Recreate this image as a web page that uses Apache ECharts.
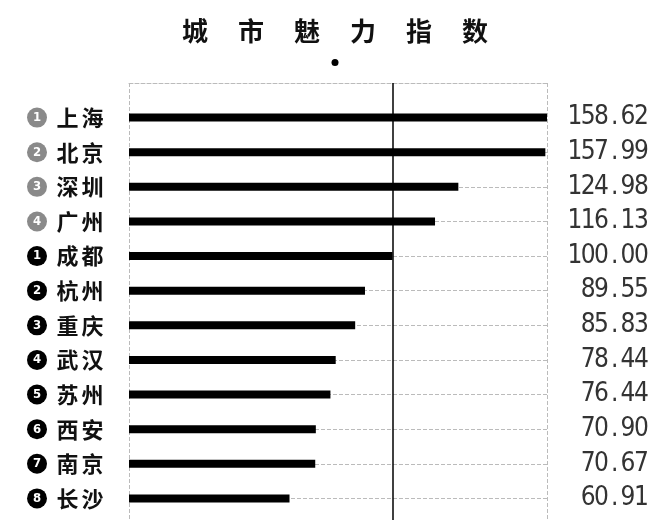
<!DOCTYPE html>
<html>
<head>
<meta charset="utf-8">
<script src="https://cdn.jsdelivr.net/npm/echarts@6/dist/echarts.min.js"></script>
<style>
  html, body { margin: 0; padding: 0; background: #fff; }
  #chart { width: 670px; height: 520px; }
</style>
</head>
<body>
<div id="chart"></div>
<script>
// 城市与指数
var cities = ['上海', '北京', '深圳', '广州', '成都', '杭州', '重庆', '武汉', '苏州', '西安', '南京', '长沙'];
var ranks = [1, 2, 3, 4, 1, 2, 3, 4, 5, 6, 7, 8];
var tiers = ['g', 'g', 'g', 'g', 'b', 'b', 'b', 'b', 'b', 'b', 'b', 'b']; // g = 一线, b = 新一线
var scores = [158.62, 157.99, 124.98, 116.13, 100.00, 89.55, 85.83, 78.44, 76.44, 70.90, 70.67, 60.91];
var baseline = 100;
var titleText = '城市魅力指数';

var axisMax = Math.max.apply(null, scores);
var numFont = "'Liberation Sans Narrow', 'DejaVu Sans Condensed', 'Roboto Condensed', 'Noto Sans', sans-serif";

// 上下各留一个空位
var leftCats = [''].concat(cities, ['']);
var rightCats = [''].concat(scores.map(function (v) { return v.toFixed(2); }), ['']);

var chart = echarts.init(document.getElementById('chart'));

var option = {
    backgroundColor: '#fff',
    animation: false,
    title: {
        text: titleText.split('').map(function (c) { return '{t|' + c + '}'; }).join(''),
        left: 'center',
        top: 8,
        textStyle: {
            rich: {
                t: {
                    width: 56,
                    align: 'center',
                    fontSize: 26,
                    fontWeight: 'bold',
                    color: '#111',
                    fontFamily: 'Noto Sans CJK SC',
                    lineHeight: 36
                }
            }
        }
    },
    graphic: [{
        type: 'circle',
        left: 'center',
        top: 59,
        shape: { r: 3.5 },
        style: { fill: '#000' }
    }],
    grid: {
        left: 129,
        right: 123,
        top: 83,
        bottom: -13,
        outerBoundsMode: 'none'
    },
    xAxis: {
        type: 'value',
        position: 'top',
        min: 0,
        max: axisMax,
        interval: axisMax,
        axisLine: { show: true, lineStyle: { color: '#bbb', type: 'dashed', width: 1 } },
        axisTick: { show: false },
        axisLabel: { show: false },
        splitLine: { show: true, lineStyle: { color: '#bbb', type: 'dashed', width: 1 } }
    },
    yAxis: [
        {
            type: 'category',
            inverse: true,
            boundaryGap: false,
            data: leftCats,
            axisLine: { show: false },
            axisTick: { show: false },
            axisLabel: {
                margin: 102,
                align: 'left',
                formatter: function (value, idx) {
                    if (!value) return '';
                    var i = idx - 1;
                    var s = '{' + tiers[i] + '|' + ranks[i] + '}{sp| }';
                    value.split('').forEach(function (c) { s += '{n|' + c + '}'; });
                    return s;
                },
                rich: {
                    g: {
                        backgroundColor: '#8a8a8a', borderRadius: 10, width: 20, height: 20,
                        align: 'center', color: '#fff', fontSize: 13, fontWeight: 'bold',
                        fontFamily: numFont
                    },
                    b: {
                        backgroundColor: '#000', borderRadius: 10, width: 20, height: 20,
                        align: 'center', color: '#fff', fontSize: 13, fontWeight: 'bold',
                        fontFamily: numFont
                    },
                    sp: { width: 8 },
                    n: {
                        width: 25, align: 'center', fontSize: 22, fontWeight: 'bold',
                        color: '#111', fontFamily: 'Noto Sans CJK SC'
                    }
                }
            }
        },
        {
            type: 'category',
            inverse: true,
            boundaryGap: false,
            position: 'right',
            data: rightCats,
            axisLine: { show: false },
            axisTick: { show: false },
            axisLabel: {
                margin: 101,
                align: 'right',
                formatter: function (value) {
                    if (!value) return '';
                    return value.split('').map(function (c) { return '{d|' + c + '}'; }).join('');
                },
                rich: {
                    d: {
                        width: 13.3, align: 'center', fontSize: 26, color: '#333',
                        fontFamily: numFont
                    }
                }
            }
        }
    ],
    series: [
        {
            name: '行线',
            type: 'line',
            data: [],
            z: 1,
            silent: true,
            markLine: {
                silent: true,
                z: 1,
                symbol: 'none',
                label: { show: false },
                lineStyle: { color: '#bbb', type: 'dashed', width: 1 },
                data: cities.map(function (c) {
                    return [{ coord: [0, c] }, { coord: [axisMax, c] }];
                })
            }
        },
        {
            name: '城市魅力指数',
            type: 'bar',
            data: [null].concat(scores, [null]),
            barWidth: 8,
            z: 3,
            itemStyle: { color: '#000' },
            markLine: {
                silent: true,
                z: 4,
                symbol: 'none',
                label: { show: false },
                lineStyle: { color: '#000', type: 'solid', width: 1.5 },
                data: [{ xAxis: baseline }]
            }
        }
    ]
};

chart.setOption(option);
</script>
</body>
</html>
